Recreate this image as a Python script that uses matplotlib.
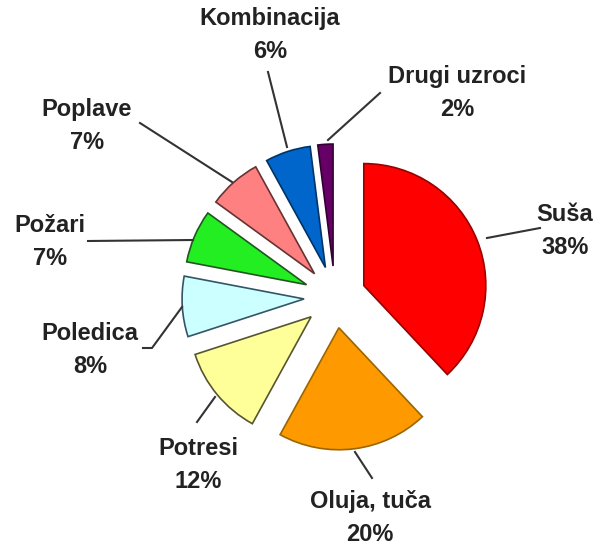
import matplotlib
matplotlib.use("Agg")
import matplotlib.pyplot as plt

# data
labels = ["Suša", "Oluja, tuča", "Potresi", "Poledica", "Požari",
          "Poplave", "Kombinacija", "Drugi uzroci"]
shares = [38, 20, 12, 8, 7, 7, 6, 2]
colors = ["#ff0000", "#ff9900", "#ffff99", "#ccffff", "#22ee22",
          "#ff8080", "#0066cc", "#660066"]
edges = ["#990000", "#996600", "#555533", "#335566", "#225522",
         "#663333", "#003366", "#330033"]

W, H = 601, 549
fig = plt.figure(figsize=(W / 100, H / 100), dpi=100)
ax = fig.add_axes([0, 0, 1, 1])

# pie centre/radius in pixel units (y measured from the bottom)
cx, cy, r = 335, H - 297, 122
wedges, _ = ax.pie(shares, colors=colors, startangle=90, counterclock=False,
                   explode=[31] * len(shares), center=(cx, cy), radius=r,
                   wedgeprops=dict(linewidth=1.2))
for w, ec in zip(wedges, edges):
    w.set_edgecolor(ec)

ax.set_xlim(0, W)
ax.set_ylim(0, H)
ax.axis("off")

# label block centres and leader lines (pixel coords from the top)
label_pos = [(565, 231), (370, 518), (198, 465), (90, 350),
             (50, 242), (87, 126), (270, 35), (457, 93)]
leaders = [[(487, 238), (540, 228)],
           [(355, 452), (372, 478)],
           [(215, 397), (197, 422)],
           [(182, 307), (152, 348), (143, 348)],
           [(193, 240), (88, 241)],
           [(232, 182), (140, 123)],
           [(287, 147), (268, 72)],
           [(328, 140), (380, 93)]]

for lab, val, (lx, ly), pts in zip(labels, shares, label_pos, leaders):
    ax.text(lx, H - ly, "%s\n%d%%" % (lab, val), ha="center", va="center",
            fontsize=17, fontweight="bold", family="Liberation Sans",
            color="#222222", linespacing=1.55)
    xs = [p[0] for p in pts]
    ys = [H - p[1] for p in pts]
    ax.plot(xs, ys, color="#333333", lw=1.5)

fig.savefig("out.png", dpi=100)
